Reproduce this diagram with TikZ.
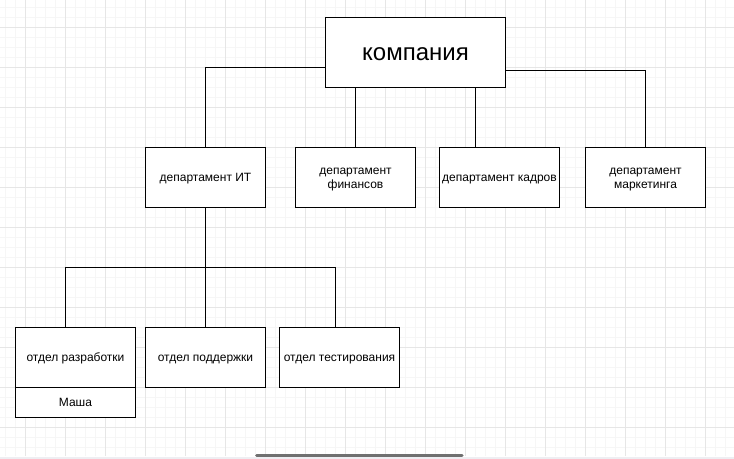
\documentclass[tikz,border=0pt]{standalone}
\usepackage{fontspec}
\setmainfont{Liberation Sans}
\definecolor{gridminor}{HTML}{F6F6F6}
\definecolor{gridmajor}{HTML}{E6E6E6}
\definecolor{scrollbar}{HTML}{707070}
\definecolor{bottomband}{HTML}{EEEEF2}
\newcommand{\sstrutx}{\rule[-2.28pt]{0pt}{10.8pt}}
\newcommand{\bstrutx}{\rule[-4.56pt]{0pt}{21.6pt}}
\begin{document}
\begin{tikzpicture}[x=0.75pt,y=-0.75pt,
  minorline/.style={draw=gridminor,line width=0.75pt},
  majorline/.style={draw=gridmajor,line width=0.75pt},
  box/.style={draw=black,fill=white,line width=0.75pt,inner sep=0pt,align=center,
    minimum width=90pt,minimum height=45pt,font=\fontsize{9}{10.8}\selectfont},
  bigbox/.style={box,minimum width=135pt,minimum height=52.5pt,font=\fontsize{18}{21.6}\selectfont},
  smallbox/.style={box,minimum height=22.5pt},
  link/.style={draw=black,line width=0.75pt}]
\useasboundingbox (0,0) rectangle (734,459);
\fill[white] (0,0) rectangle (734,459);
\foreach \x in {5.5,15.5,...,734} \draw[minorline] (\x,0) -- (\x,456);
\foreach \y in {7.5,17.5,...,456} \draw[minorline] (0,\y) -- (734,\y);
\foreach \x in {25.5,65.5,...,734} \draw[majorline] (\x,0) -- (\x,456);
\foreach \y in {27.5,67.5,...,456} \draw[majorline] (0,\y) -- (734,\y);
\fill[bottomband] (0,456.5) rectangle (734,459);
\draw[scrollbar,line width=2.25pt,line cap=round] (256.5,455) -- (462,455);

\begin{scope}[shift={(0.5,0.5)}]
\node[bigbox] (komp) at (415,52) {\bstrutx компания};
\node[box] (it) at (205,177) {\sstrutx департамент ИТ};
\node[box] (fin) at (355,177) {\sstrutx департамент\\\sstrutx финансов};
\node[box] (kadr) at (499,177) {\sstrutx департамент кадров};
\node[box] (mark) at (645,177) {\sstrutx департамент\\\sstrutx маркетинга};
\node[box] (razr) at (75,357) {\sstrutx отдел разработки};
\node[smallbox,anchor=north,yshift=0.75pt] (masha) at (razr.south) {\sstrutx Маша};
\node[box] (supp) at (205,357) {\sstrutx отдел поддержки};
\node[box] (test) at (339,357) {\sstrutx отдел тестирования};

\coordinate (j) at (205,267);

\draw[link] ([yshift=-11.25pt]komp.west) -| (it.north);
\draw[link] ([yshift=-13.5pt]komp.east) -| (mark.north);
\draw[link] ([xshift=-45pt]komp.south) -- (fin.north);
\draw[link] ([xshift=45pt]komp.south) -- ([xshift=45pt]komp.south |- kadr.north);
\draw[link] (it.south) -- (j);
\draw[link] ([xshift=-7.5pt]razr.north) |- (j) -| ([xshift=-3pt]test.north);
\draw[link] (j) -- (supp.north);
\end{scope}
\end{tikzpicture}
\end{document}
